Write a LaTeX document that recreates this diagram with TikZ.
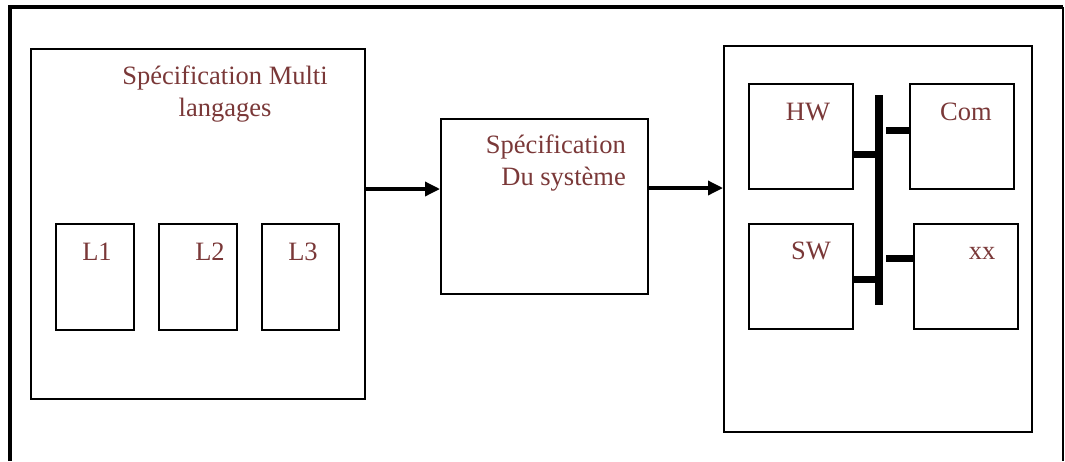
\documentclass[tikz,border=0pt]{standalone}
\usepackage{fontspec}
\setmainfont{Liberation Serif}
\usetikzlibrary{arrows.meta}
\definecolor{txt}{RGB}{122,56,56}
\tikzset{
  box/.style={draw, line width=1.8pt, inner sep=0pt, anchor=north west},
  lbl/.style={text=txt, font=\fontsize{26.5}{32}\selectfont, inner sep=0pt},
  flow/.style={line width=3.4pt, -{Triangle[length=15pt,width=14pt]}},
  bus/.style={line width=7pt},
}
\begin{document}
\begin{tikzpicture}[x=1pt,y=-1pt]
\useasboundingbox (0,0) rectangle (1065,461);
% outer frame (open at the bottom)
\coordinate (fl) at (10,461);
\coordinate (ftl) at (10,7);
\coordinate (ftr) at (1063,7);
\coordinate (fr) at (1063,461);
\draw[line width=4pt] (fl) -- (ftl) -- (ftr);
\draw[line width=1.8pt] (ftr) -- (fr);

% left block
\node[box, minimum width=334pt, minimum height=350pt] (left) at (30,48) {};
\node[lbl, align=center] (ltitle) at (225,94) {Spécification Multi\\langages};
\node[box, minimum width=78pt, minimum height=106pt] (b1) at (55,223) {};
\node[box, minimum width=78pt, minimum height=106pt] (b2) at (158,223) {};
\node[box, minimum width=77pt, minimum height=106pt] (b3) at (261,223) {};
\node[lbl] (t1) at (97,252) {L1};
\node[lbl] (t2) at (210,252) {L2};
\node[lbl] (t3) at (303,252) {L3};

% middle block
\node[box, minimum width=207pt, minimum height=175pt] (mid) at (440,118) {};
\node[lbl, align=right, anchor=east] (mtitle) at (626,163) {Spécification\\Du système};

% right block
\node[box, minimum width=308pt, minimum height=386pt] (right) at (723,45) {};
\node[box, minimum width=104pt, minimum height=105pt] (hw) at (748,83) {};
\node[box, minimum width=104pt, minimum height=105pt] (com) at (909,83) {};
\node[box, minimum width=104pt, minimum height=105pt] (sw) at (748,223) {};
\node[box, minimum width=104pt, minimum height=105pt] (xx) at (913,223) {};
\node[lbl] (thw) at (808,112) {HW};
\node[lbl] (tcom) at (966,112) {Com};
\node[lbl] (tsw) at (811,251) {SW};
\node[lbl] (txx) at (982,253) {xx};

% bus
\coordinate (bt) at (879,95);
\coordinate (bb) at (879,305);
\draw[line width=8pt] (bt) -- (bb);
\coordinate (s1) at (0,154);
\coordinate (s2) at (0,279);
\coordinate (c1) at (886,130);
\coordinate (c2) at (886,258);
\draw[bus] (hw.east |- s1) -- (bt |- s1);
\draw[bus] (sw.east |- s2) -- (bt |- s2);
\draw[bus] (c1) -- (com.west |- c1);
\draw[bus] (c2) -- (xx.west |- c2);

% flow arrows
\coordinate (a1) at (0,189);
\coordinate (a2) at (0,188);
\draw[flow] (left.east |- a1) -- (mid.west |- a1);
\draw[flow] (mid.east |- a2) -- (right.west |- a2);
\end{tikzpicture}
\end{document}
